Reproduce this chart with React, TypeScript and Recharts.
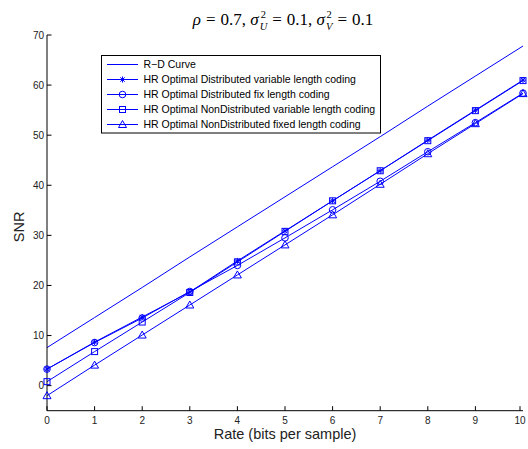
import React from "react";
import { Legend, Line, LineChart, XAxis, YAxis } from "recharts";

const RATES = [0, 1, 2, 3, 4, 5, 6, 7, 8, 9, 10];
const RD_CURVE = [7.6, 13.6, 19.6, 25.7, 31.7, 37.7, 43.7, 49.7, 55.8, 61.8, 67.8];
const DIST_VARIABLE = [3.3, 8.7, 13.7, 18.7, 24.9, 30.9, 36.9, 42.9, 49.0, 55.0, 61.0];
const DIST_FIXED = [3.3, 8.6, 13.5, 18.8, 24.0, 29.5, 35.1, 40.8, 46.7, 52.5, 58.4];
const NONDIST_VARIABLE = [0.8, 6.8, 12.7, 18.6, 24.7, 30.8, 36.9, 42.9, 48.9, 54.9, 60.9];
const NONDIST_FIXED = [-2.0, 4.1, 10.1, 16.1, 22.1, 28.1, 34.1, 40.2, 46.3, 52.3, 58.3];
const Y_TICKS = [0, 10, 20, 30, 40, 50, 60, 70];

const BLUE = "#0000ff";
const FONT = "'Liberation Sans', Arial, Helvetica, sans-serif";
const SERIF = "'Liberation Serif', 'DejaVu Serif', serif";

type Marker = "none" | "star" | "circle" | "square" | "triangle";

const SERIES: { key: string; name: string; marker: Marker; values: number[] }[] = [
  { key: "rd", name: "R\u2212D Curve", marker: "none", values: RD_CURVE },
  { key: "dv", name: "HR Optimal Distributed variable length coding", marker: "star", values: DIST_VARIABLE },
  { key: "df", name: "HR Optimal Distributed fix length coding", marker: "circle", values: DIST_FIXED },
  { key: "nv", name: "HR Optimal NonDistributed variable length coding", marker: "square", values: NONDIST_VARIABLE },
  { key: "nf", name: "HR Optimal NonDistributed fixed length coding", marker: "triangle", values: NONDIST_FIXED },
];

const data = RATES.map((rate, i) => {
  const row: Record<string, number> = { rate };
  for (const s of SERIES) row[s.key] = s.values[i];
  return row;
});

// matlab-style open markers
function drawMarker(kind: Marker, cx: number, cy: number, key?: string | number) {
  const common = { stroke: BLUE, strokeWidth: 1, fill: "none" };
  switch (kind) {
    case "star":
      return (
        <g key={key} {...common}>
          <line x1={cx - 3} y1={cy} x2={cx + 3} y2={cy} />
          <line x1={cx} y1={cy - 3} x2={cx} y2={cy + 3} />
          <line x1={cx - 2.2} y1={cy - 2.2} x2={cx + 2.2} y2={cy + 2.2} />
          <line x1={cx - 2.2} y1={cy + 2.2} x2={cx + 2.2} y2={cy - 2.2} />
        </g>
      );
    case "circle":
      return <circle key={key} cx={cx} cy={cy} r={3.3} {...common} />;
    case "square":
      return <rect key={key} x={cx - 3} y={cy - 3} width={6} height={6} {...common} />;
    case "triangle":
      return (
        <polygon
          key={key}
          points={`${cx},${cy - 4} ${cx - 4},${cy + 3} ${cx + 4},${cy + 3}`}
          {...common}
        />
      );
    default:
      return <g key={key} />;
  }
}

function XTick({ x, y, payload }: any) {
  return (
    <g>
      <line x1={x} x2={x} y1={y} y2={y - 4.5} stroke="#000" />
      <text x={x} y={y + 13} textAnchor="middle" fontSize={10} fontFamily={FONT} fill="#222">
        {payload.value}
      </text>
    </g>
  );
}

function YTick({ x, y, payload }: any) {
  return (
    <g>
      <line x1={x} x2={x + 4.5} y1={y} y2={y} stroke="#000" />
      <text x={x - 3} y={y + 3.5} textAnchor="end" fontSize={10} fontFamily={FONT} fill="#222">
        {payload.value}
      </text>
    </g>
  );
}

function LegendBox() {
  const rowH = 15;
  return (
    <svg width={280} height={79} style={{ display: "block" }}>
      <rect x={0.5} y={0.5} width={279} height={77.5} fill="#fff" stroke="#000" strokeWidth={1} />
      {SERIES.map((s, i) => {
        const cy = 9.5 + i * rowH;
        return (
          <g key={s.key}>
            <line x1={6} x2={37} y1={cy} y2={cy} stroke={BLUE} strokeWidth={1} />
            {drawMarker(s.marker, 21.5, cy)}
            <text x={42.5} y={cy + 3.8} fontSize={10.5} fontFamily={FONT} fill="#000">
              {s.name}
            </text>
          </g>
        );
      })}
    </svg>
  );
}

const eq = { margin: "0 5px" };
const stack: React.CSSProperties = {
  display: "inline-flex",
  flexDirection: "column",
  verticalAlign: "middle",
  fontSize: 10.5,
  lineHeight: "12px",
  marginLeft: 1,
};

export default function App() {
  return (
    <div style={{ position: "absolute", left: 0, top: 0, width: 528, height: 449, background: "#fff" }}>
      <div
        style={{
          position: "absolute",
          left: 0,
          width: 566,
          top: 7,
          textAlign: "center",
          fontFamily: SERIF,
          fontSize: 17,
          lineHeight: "26px",
          color: "#000",
          zIndex: 2,
          whiteSpace: "nowrap",
        }}
      >
        <i>ρ</i>
        <span style={eq}>=</span>0.7,&nbsp;<i>σ</i>
        <span style={stack}>
          <span>2</span>
          <i>U</i>
        </span>
        <span style={eq}>=</span>0.1,&nbsp;<i>σ</i>
        <span style={stack}>
          <span>2</span>
          <i>V</i>
        </span>
        <span style={eq}>=</span>0.1
      </div>
      <LineChart width={528} height={449} data={data} margin={{ top: 35, right: 5, bottom: 0, left: 0 }}>
        <XAxis
          dataKey="rate"
          type="number"
          domain={[0, 10]}
          ticks={RATES}
          tickSize={0}
          tickMargin={0}
          tick={<XTick />}
          axisLine={{ stroke: "#000" }}
          height={38.3}
          label={(props: any) => {
            const vb = props.viewBox;
            return (
              <text
                x={vb.x + vb.width / 2}
                y={vb.y + 28.5}
                textAnchor="middle"
                fontSize={14.5}
                fontFamily={FONT}
                fill="#222"
              >
                Rate (bits per sample)
              </text>
            );
          }}
        />
        <YAxis
          type="number"
          domain={[-5, 70]}
          ticks={Y_TICKS}
          tickSize={0}
          tickMargin={0}
          tick={<YTick />}
          axisLine={{ stroke: "#000" }}
          width={47}
          label={(props: any) => {
            const vb = props.viewBox;
            const cy = vb.y + vb.height / 2 + 4;
            return (
              <text
                x={24}
                y={cy}
                transform={`rotate(-90, 24, ${cy})`}
                textAnchor="middle"
                fontSize={14.5}
                fontFamily={FONT}
                fill="#222"
              >
                SNR
              </text>
            );
          }}
        />
        <Legend
          layout="vertical"
          align="center"
          verticalAlign="middle"
          wrapperStyle={{ left: 101, top: 55, width: 280 }}
          content={() => <LegendBox />}
        />
        {SERIES.map((s) => (
          <Line
            key={s.key}
            dataKey={s.key}
            name={s.name}
            stroke={BLUE}
            strokeWidth={1}
            isAnimationActive={false}
            dot={
              s.marker === "none"
                ? false
                : (p: any) => drawMarker(s.marker, p.cx, p.cy, `${s.key}-${p.index}`)
            }
            activeDot={false}
          />
        ))}
      </LineChart>
    </div>
  );
}
